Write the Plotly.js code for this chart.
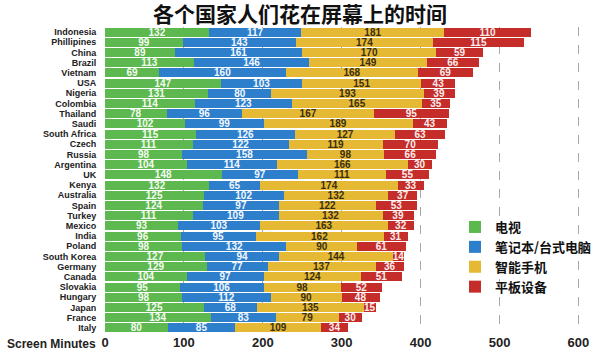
<!DOCTYPE html>
<html>
<head>
<meta charset="utf-8">
<script src="https://cdn.plot.ly/plotly-3.0.1.min.js"></script>
<style>html,body{margin:0;padding:0;background:#fff;}#chart{width:600px;height:357px;}</style>
</head>
<body>
<div id="chart"></div>
<script>
const countries = ["Indonesia","Phillipines","China","Brazil","Vietnam","USA","Nigeria","Colombia","Thailand","Saudi","South Africa","Czech","Russia","Argentina","UK","Kenya","Australia","Spain","Turkey","Mexico","India","Poland","South Korea","Germany","Canada","Slovakia","Hungary","Japan","France","Italy"];
const tv =         [132, 99, 89,113, 69,147,131,114, 78,102,115,111, 98,104,148,132,125,124,111, 93, 96, 98,127,129,104, 95, 98,125,134, 80];
const computer =   [117,143,161,146,160,103, 80,123, 96, 99,126,122,158,114, 97, 65,102, 97,109,103, 95,132, 94, 77, 97,106,112, 68, 83, 85];
const smartphone = [181,174,170,149,168,151,193,165,167,189,127,119, 98,166,111,174,132,122,132,163,162, 90,144,137,124, 98, 90,135, 79,109];
const tablet =     [110,115, 59, 66, 69, 43, 39, 35, 95, 43, 63, 70, 66, 30, 55, 33, 37, 53, 39, 32, 31, 61, 14, 36, 51, 52, 48, 15, 30, 34];
const seriesNames = ["电视","笔记本/台式电脑","智能手机","平板设备"];
const xTicks = [0,100,200,300,400,500,600];

const colors = ["#5cb84f","#2d7fcc","#e5b933","#c42d2a"];
const textColors = ["#f4fbef","#f2f7ff","#3a2f10","#fbecec"];
const sets = [tv, computer, smartphone, tablet];

const traces = sets.map((vals, i) => ({
  type: "bar",
  orientation: "h",
  name: seriesNames[i],
  y: countries,
  x: vals,
  text: vals.map(String),
  textposition: "inside",
  insidetextanchor: "middle",
  constraintext: "none",
  textfont: {family: "Liberation Sans, Arial, sans-serif", size: 10, color: textColors[i], weight: "bold"},
  marker: {color: colors[i], line: {width: 0}},
  hoverinfo: "x+y+name"
}));

const layout = {
  width: 600, height: 357,
  margin: {l: 105, r: 20, t: 27, b: 24, autoexpand: false},
  barmode: "stack",
  bargap: 0.1,
  paper_bgcolor: "#ffffff",
  plot_bgcolor: "#ffffff",
  showlegend: true,
  title: {
    text: "各个国家人们花在屏幕上的时间",
    font: {family: "Noto Sans CJK SC, sans-serif", size: 21, color: "#111", weight: "bold"},
    x: 0.5, xanchor: "center", xref: "container",
    y: 1 - 14.5/357, yanchor: "middle", yref: "container"
  },
  xaxis: {
    range: [0, 602],
    tickvals: xTicks,
    ticktext: xTicks.map(String),
    tickfont: {family: "Liberation Sans, Arial, sans-serif", size: 13, color: "#222", weight: "bold"},
    showgrid: true,
    gridcolor: "#a8a8a8",
    griddash: "dash",
    gridwidth: 1,
    zeroline: false,
    showline: false,
    ticks: "",
    ticklen: 0,
    automargin: false
  },
  yaxis: {
    autorange: "reversed",
    type: "category",
    tickmode: "linear",
    tick0: 0,
    dtick: 1,
    tickfont: {family: "Liberation Sans, Arial, sans-serif", size: 9, color: "#222", weight: "bold"},
    ticks: "outside",
    ticklen: 6,
    tickcolor: "rgba(0,0,0,0)",
    showgrid: false,
    zeroline: false,
    showline: false,
    automargin: false
  },
  legend: {
    xref: "paper",
    font: {family: "Noto Sans CJK SC, sans-serif", size: 13, color: "#111", weight: "bold"},
    bgcolor: "rgba(255,255,255,0)",
    itemwidth: 30,
    traceorder: "normal"
  },
  annotations: [{
    text: "Screen Minutes",
    xref: "paper", yref: "paper",
    x: -100/475, y: -11/306, xanchor: "left", yanchor: "middle",
    showarrow: false,
    font: {family: "Liberation Sans, Arial, sans-serif", size: 12, color: "#222", weight: "bold"}
  }]
};
layout.legend.x = (455 - 105) / 475;
layout.legend.y = 1 - (212 - 27) / 306;
layout.legend.xanchor = "left";
layout.legend.yanchor = "top";

Plotly.newPlot("chart", traces, layout, {displayModeBar: false, staticPlot: true});
</script>
</body>
</html>
